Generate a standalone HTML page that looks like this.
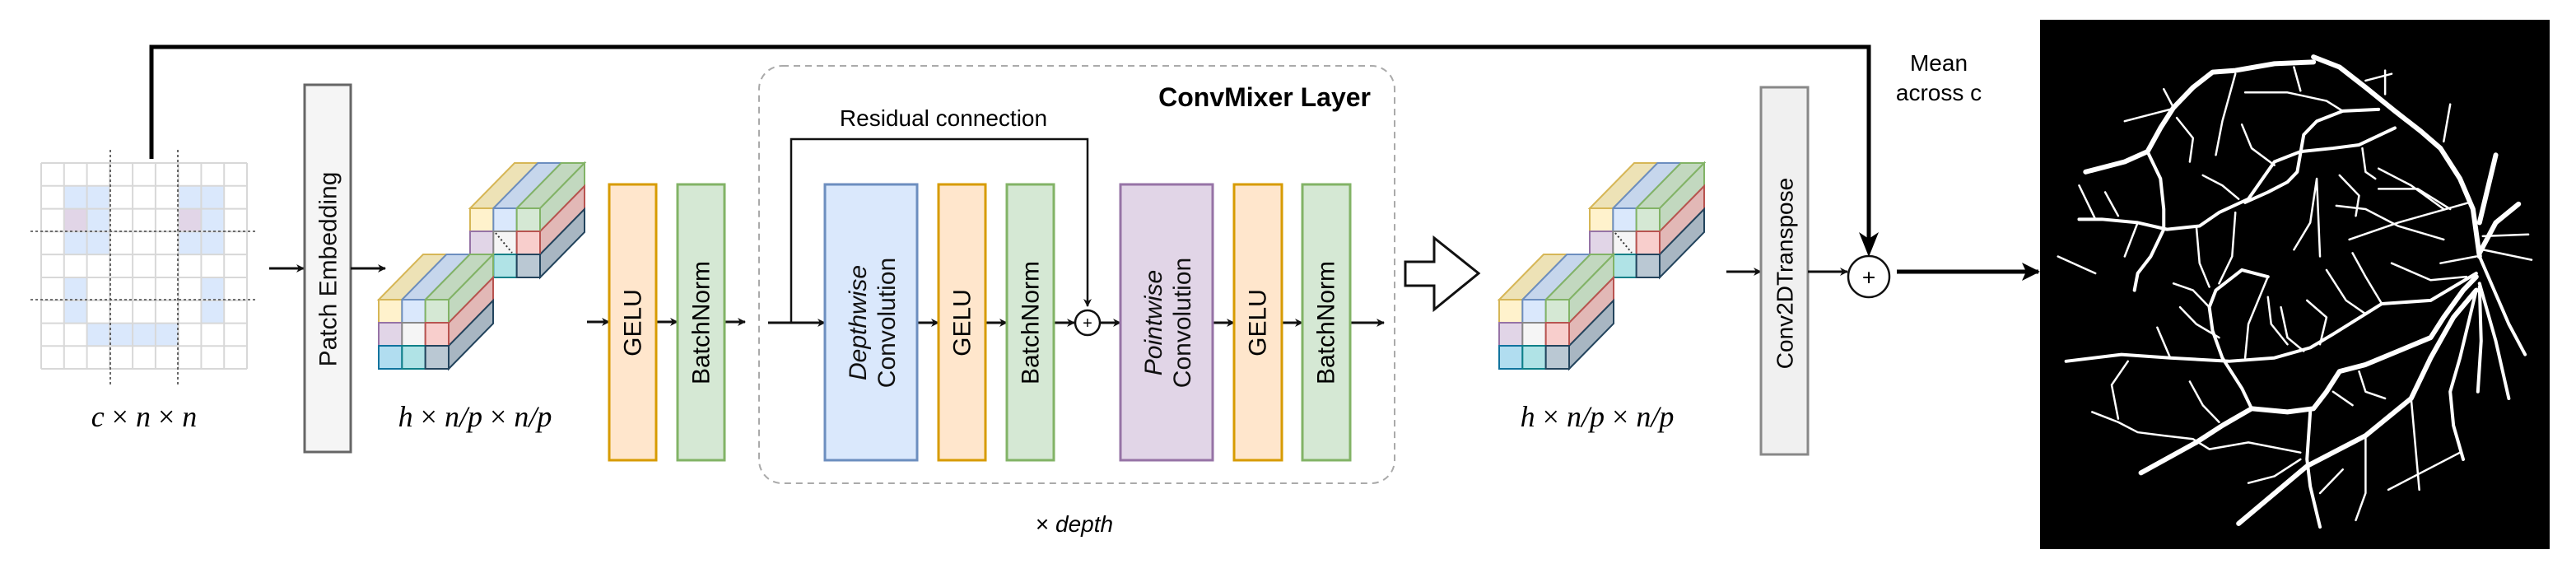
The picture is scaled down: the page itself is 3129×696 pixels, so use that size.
<!DOCTYPE html>
<html><head><meta charset="utf-8"><style>
html,body{margin:0;padding:0;background:#fff;}
svg{display:block;}
text{font-family:"Liberation Sans",sans-serif;}
</style></head><body>
<svg width="3129" height="696" viewBox="0 0 3129 696" xmlns="http://www.w3.org/2000/svg">
<defs>
<marker id="ah" markerWidth="10" markerHeight="10" refX="9" refY="5" orient="auto" markerUnits="userSpaceOnUse" viewBox="0 0 10 10">
<path d="M0,0 L10,5 L0,10 L3,5 z" fill="#111"/></marker>
<marker id="ah2" markerWidth="22" markerHeight="22" refX="20" refY="11" orient="auto" markerUnits="userSpaceOnUse" viewBox="0 0 22 22">
<path d="M0,0 L22,11 L0,22 L5,11 z" fill="#000"/></marker>
<g id="cube" stroke-width="2">
<polygon points="0,0 28.33,0 82.33,-55 54,-55" fill="#ede2b6" stroke="#d6b656"/>
<polygon points="28.33,0 56.67,0 110.67,-55 82.33,-55" fill="#c6d6ec" stroke="#6c8ebf"/>
<polygon points="56.67,0 85,0 139,-55 110.67,-55" fill="#c2d8bf" stroke="#82b366"/>
<polygon points="85,0 85,28 139,-27 139,-55" fill="#c2d8bf" stroke="#82b366"/>
<polygon points="85,28 85,56 139,1 139,-27" fill="#e2b8b6" stroke="#b85450"/>
<polygon points="85,56 85,84 139,29 139,1" fill="#a8b6c2" stroke="#23445d"/>
<rect x="0" y="0" width="28.33" height="28" fill="#fff2cc" stroke="#d6b656"/>
<rect x="28.33" y="0" width="28.33" height="28" fill="#dae8fc" stroke="#6c8ebf"/>
<rect x="56.67" y="0" width="28.33" height="28" fill="#d5e8d4" stroke="#82b366"/>
<rect x="0" y="28" width="28.33" height="28" fill="#e1d5e7" stroke="#9673a6"/>
<rect x="28.33" y="28" width="28.33" height="28" fill="#f5f5f5" stroke="#888"/>
<rect x="56.67" y="28" width="28.33" height="28" fill="#f8cecc" stroke="#b85450"/>
<rect x="0" y="56" width="28.33" height="28" fill="#b1ddf0" stroke="#10739e"/>
<rect x="28.33" y="56" width="28.33" height="28" fill="#b0e3e6" stroke="#0e8088"/>
<rect x="56.67" y="56" width="28.33" height="28" fill="#bac8d3" stroke="#23445d"/>
</g>
</defs>

<!-- top skip connection -->
<polyline points="184,193 184,57 2270,57 2270,306" fill="none" stroke="#000" stroke-width="5"/>
<path d="M2258,282 L2270,312 L2282,282 L2270,290 z" fill="#000"/>

<!-- input grid -->
<g>
<rect x="50" y="198" width="250" height="250" fill="#fff"/>
<g fill="#dae8fc">
<rect x="77.8" y="225.8" width="55.6" height="27.8"/><rect x="216.7" y="225.8" width="55.6" height="27.8"/>
<rect x="105.6" y="253.6" width="27.8" height="27.8"/><rect x="244.4" y="253.6" width="27.8" height="27.8"/>
<rect x="77.8" y="281.3" width="55.6" height="27.8"/><rect x="216.7" y="281.3" width="55.6" height="27.8"/>
<rect x="77.8" y="337" width="27.8" height="55.6"/><rect x="244.4" y="337" width="27.8" height="55.6"/>
<rect x="105.6" y="392.6" width="111.1" height="27.8"/>
</g>
<g fill="#e1d5e7"><rect x="77.8" y="253.6" width="27.8" height="27.8"/><rect x="216.7" y="253.6" width="27.8" height="27.8"/></g>
<g stroke="#d8d8d8" stroke-width="2" fill="none">
<path d="M50,198V448M77.8,198V448M105.6,198V448M133.3,198V448M161.1,198V448M188.9,198V448M216.7,198V448M244.4,198V448M272.2,198V448M300,198V448"/>
<path d="M50,198H300M50,225.8H300M50,253.6H300M50,281.3H300M50,309.1H300M50,337H300M50,364.7H300M50,392.6H300M50,420.3H300M50,448H300"/>
</g>
<g stroke="#444" stroke-width="1.6" stroke-dasharray="3,3" fill="none">
<path d="M134,182V469M216,182V469M37,281H312M37,364H312"/>
</g>
</g>
<text x="175" y="518" font-family="Liberation Serif" font-style="italic" font-size="36" text-anchor="middle" style="font-family:'Liberation Serif',serif">c <tspan font-style="normal">×</tspan> n <tspan font-style="normal">×</tspan> n</text>

<!-- patch embedding -->
<line x1="327" y1="326" x2="369" y2="326" stroke="#111" stroke-width="3" marker-end="url(#ah)"/>
<rect x="370" y="103" width="56" height="446" fill="#f5f5f5" stroke="#666" stroke-width="3"/>
<text transform="translate(399,327) rotate(-90)" font-size="30" text-anchor="middle" dominant-baseline="central" fill="#111">Patch Embedding</text>
<line x1="426" y1="326" x2="468" y2="326" stroke="#111" stroke-width="3" marker-end="url(#ah)"/>

<use href="#cube" x="571" y="253"/>
<use href="#cube" x="460" y="364"/>
<line x1="602" y1="283" x2="622" y2="307" stroke="#333" stroke-width="2" stroke-dasharray="2,3"/>
<text x="577" y="518" font-style="italic" font-size="36" text-anchor="middle" style="font-family:'Liberation Serif',serif">h <tspan font-style="normal">×</tspan> n/p <tspan font-style="normal">×</tspan> n/p</text>

<!-- GELU / BN -->
<g stroke="#111" stroke-width="3" marker-end="url(#ah)">
<line x1="713" y1="391" x2="740" y2="391"/>
<line x1="797" y1="391" x2="823" y2="391"/>
<line x1="880" y1="391" x2="905" y2="391"/>
</g>
<rect x="740" y="224" width="57" height="335" fill="#ffe6cc" stroke="#d79b00" stroke-width="3"/>
<rect x="823" y="224" width="57" height="335" fill="#d5e8d4" stroke="#82b366" stroke-width="3"/>
<text transform="translate(769,392) rotate(-90)" font-size="30" text-anchor="middle" dominant-baseline="central">GELU</text>
<text transform="translate(852,392) rotate(-90)" font-size="30" text-anchor="middle" dominant-baseline="central">BatchNorm</text>

<!-- ConvMixer layer -->
<rect x="922" y="80" width="772" height="507" rx="28" fill="none" stroke="#aaa" stroke-width="2" stroke-dasharray="8,6"/>
<text x="1665" y="129" font-size="32" font-weight="bold" text-anchor="end">ConvMixer Layer</text>
<text x="1146" y="153" font-size="28" text-anchor="middle">Residual connection</text>
<polyline points="961,392 961,169 1321,169 1321,372" fill="none" stroke="#111" stroke-width="2.5" marker-end="url(#ah)"/>
<g stroke="#111" stroke-width="3" marker-end="url(#ah)">
<line x1="933" y1="392" x2="1002" y2="392"/>
<line x1="1114" y1="392" x2="1140" y2="392"/>
<line x1="1197" y1="392" x2="1223" y2="392"/>
<line x1="1280" y1="392" x2="1305" y2="392"/>
<line x1="1337" y1="392" x2="1361" y2="392"/>
<line x1="1473" y1="392" x2="1499" y2="392"/>
<line x1="1557" y1="392" x2="1582" y2="392"/>
<line x1="1640" y1="392" x2="1681" y2="392"/>
</g>
<circle cx="1321" cy="392" r="15" fill="#fff" stroke="#111" stroke-width="2.5"/>
<text x="1321" y="393" font-size="20" text-anchor="middle" dominant-baseline="central">+</text>
<rect x="1002" y="224" width="112" height="335" fill="#dae8fc" stroke="#6c8ebf" stroke-width="3"/>
<text transform="translate(1058,392) rotate(-90)" font-size="30" text-anchor="middle" fill="#111"><tspan x="0" dy="-6" font-style="italic">Depthwise</tspan><tspan x="0" dy="35">Convolution</tspan></text>
<rect x="1140" y="224" width="57" height="335" fill="#ffe6cc" stroke="#d79b00" stroke-width="3"/>
<text transform="translate(1169,392) rotate(-90)" font-size="30" text-anchor="middle" dominant-baseline="central">GELU</text>
<rect x="1223" y="224" width="57" height="335" fill="#d5e8d4" stroke="#82b366" stroke-width="3"/>
<text transform="translate(1252,392) rotate(-90)" font-size="30" text-anchor="middle" dominant-baseline="central">BatchNorm</text>
<rect x="1361" y="224" width="112" height="335" fill="#e1d5e7" stroke="#9673a6" stroke-width="3"/>
<text transform="translate(1417,392) rotate(-90)" font-size="30" text-anchor="middle" fill="#111"><tspan x="0" dy="-6" font-style="italic">Pointwise</tspan><tspan x="0" dy="35">Convolution</tspan></text>
<rect x="1499" y="224" width="58" height="335" fill="#ffe6cc" stroke="#d79b00" stroke-width="3"/>
<text transform="translate(1528,392) rotate(-90)" font-size="30" text-anchor="middle" dominant-baseline="central">GELU</text>
<rect x="1582" y="224" width="58" height="335" fill="#d5e8d4" stroke="#82b366" stroke-width="3"/>
<text transform="translate(1611,392) rotate(-90)" font-size="30" text-anchor="middle" dominant-baseline="central">BatchNorm</text>
<text x="1305" y="646" font-size="28" text-anchor="middle">× <tspan font-style="italic">depth</tspan></text>

<!-- hollow arrow -->
<polygon points="1707,318 1742,318 1742,289 1796,332 1742,376 1742,347 1707,347" fill="#fff" stroke="#111" stroke-width="3"/>

<use href="#cube" x="1931" y="253"/>
<use href="#cube" x="1821" y="364"/>
<line x1="1962" y1="283" x2="1982" y2="307" stroke="#333" stroke-width="2" stroke-dasharray="2,3"/>
<text x="1940" y="518" font-style="italic" font-size="36" text-anchor="middle" style="font-family:'Liberation Serif',serif">h <tspan font-style="normal">×</tspan> n/p <tspan font-style="normal">×</tspan> n/p</text>

<line x1="2097" y1="330" x2="2139" y2="330" stroke="#111" stroke-width="3" marker-end="url(#ah)"/>
<rect x="2139" y="106" width="57" height="446" fill="#f0f0f0" stroke="#888" stroke-width="3"/>
<text transform="translate(2168,332) rotate(-90)" font-size="28" text-anchor="middle" dominant-baseline="central">Conv2DTranspose</text>
<line x1="2196" y1="330" x2="2244" y2="330" stroke="#111" stroke-width="3" marker-end="url(#ah)"/>
<circle cx="2270" cy="336" r="25" fill="#fff" stroke="#111" stroke-width="2.5"/>
<text x="2270" y="337" font-size="28" text-anchor="middle" dominant-baseline="central">+</text>
<line x1="2304" y1="330" x2="2476" y2="330" stroke="#000" stroke-width="5" marker-end="url(#ah2)"/>
<text x="2355" y="86" font-size="28" text-anchor="middle">Mean</text>
<text x="2355" y="122" font-size="28" text-anchor="middle">across c</text>

<!-- vessel image -->
<rect x="2478" y="24" width="619" height="643" fill="#000"/>
<g transform="translate(2478,24) scale(0.3954,0.4107)" fill="none" stroke="#fff" stroke-linecap="round" stroke-linejoin="round">
<g stroke-width="6" vector-effect="non-scaling-stroke">
<path vector-effect="non-scaling-stroke" d="M1350,700 L1330,560 1290,470 1230,380 1170,330 1090,270 1000,200 920,140 840,110"/>
<path vector-effect="non-scaling-stroke" d="M840,125 L720,130 600,150 530,155 470,200 410,260 370,320 330,390 260,420 140,450"/>
<path vector-effect="non-scaling-stroke" d="M1340,760 L1300,800 1240,880 1200,940 1100,980 1000,1020 920,1040 880,1100 840,1150 760,1160 650,1150 560,1200 480,1250 310,1340"/>
<path vector-effect="non-scaling-stroke" d="M1340,800 L1270,880 1200,1000 1140,1120 1000,1230 820,1320 610,1490"/>
<path vector-effect="non-scaling-stroke" d="M1350,690 L1400,600 1470,545"/>
<path vector-effect="non-scaling-stroke" d="M1350,600 L1400,400"/>
</g>
<g stroke-width="4">
<path vector-effect="non-scaling-stroke" d="M1090,320 L980,370 900,380 800,390 720,420 640,530 550,570 490,610 390,620 300,600 190,590 120,590"/>
<path vector-effect="non-scaling-stroke" d="M1040,265 L930,270 850,300 810,340 790,450 760,480 700,510 630,540"/>
<path vector-effect="non-scaling-stroke" d="M1340,750 L1200,830 1050,840 1000,870 900,930 830,970 720,1000 580,1010 400,1000 250,990 80,1010"/>
<path vector-effect="non-scaling-stroke" d="M830,1160 L820,1300 830,1380 860,1500"/>
<path vector-effect="non-scaling-stroke" d="M330,390 L370,470 380,560 380,620 340,700 300,750 290,800"/>
<path vector-effect="non-scaling-stroke" d="M520,850 L540,800 620,740 700,760 M520,850 L530,920 560,1000 620,1090 650,1150"/>
<path vector-effect="non-scaling-stroke" d="M1350,700 L1440,900 1490,990"/>
<path vector-effect="non-scaling-stroke" d="M1350,780 L1400,950 1440,1120"/>
<path vector-effect="non-scaling-stroke" d="M1340,800 L1290,1000 1260,1100 1270,1200 1300,1300"/>
<path vector-effect="non-scaling-stroke" d="M1350,790 L1355,950 1345,1100"/>
</g>
<g stroke-width="2.5">
<path vector-effect="non-scaling-stroke" d="M1320,540 L1100,600 950,650"/>
<path vector-effect="non-scaling-stroke" d="M1360,640 L1500,635 M1360,680 L1510,710 M1230,720 L1340,700"/>
<path vector-effect="non-scaling-stroke" d="M1310,760 L1200,770 1080,720"/>
<path vector-effect="non-scaling-stroke" d="M1040,440 L1140,490 1240,560 M1040,500 L1160,500 1260,560"/>
<path vector-effect="non-scaling-stroke" d="M600,160 L560,300 540,400 M630,215 L760,215 880,240 930,270"/>
<path vector-effect="non-scaling-stroke" d="M850,470 L830,600 780,680 M850,470 L860,700"/>
<path vector-effect="non-scaling-stroke" d="M920,460 L980,520 970,580 M990,380 L1000,450 1030,470"/>
<path vector-effect="non-scaling-stroke" d="M910,550 L1000,560 1100,610 1240,650"/>
<path vector-effect="non-scaling-stroke" d="M960,690 L1000,760 1050,840 M880,740 L940,830 1000,870"/>
<path vector-effect="non-scaling-stroke" d="M160,1160 L240,1190 300,1220 380,1230 470,1240 520,1270 640,1250 800,1280"/>
<path vector-effect="non-scaling-stroke" d="M270,1010 L220,1080 240,1180 M460,1070 L500,1140 550,1190"/>
<path vector-effect="non-scaling-stroke" d="M1140,1120 L1165,1390 M1070,1390 L1290,1280 M1000,1230 L1000,1400 970,1480"/>
<path vector-effect="non-scaling-stroke" d="M700,760 L640,900 630,1000 M120,490 L170,590 M200,510 L240,580"/>
<path vector-effect="non-scaling-stroke" d="M260,300 L400,265 M380,205 L410,260 M420,290 L470,350 460,420 M55,700 L170,750 M300,600 L260,700"/>
<path vector-effect="non-scaling-stroke" d="M700,820 L710,900 760,960 M740,850 L760,940 810,980 M820,830 L880,880 860,960"/>
<path vector-effect="non-scaling-stroke" d="M410,780 L470,800 520,850 M430,850 L480,900 550,940 M360,910 L400,1000"/>
<path vector-effect="non-scaling-stroke" d="M620,310 L650,380 720,430 M500,460 L560,490 610,530 M1260,250 L1240,360"/>
<path vector-effect="non-scaling-stroke" d="M1080,160 L1000,180 M1060,150 L1060,220 M780,140 L800,210"/>
<path vector-effect="non-scaling-stroke" d="M980,1040 L1000,1100 1060,1120 M900,1100 L960,1140 M640,1370 L720,1350 800,1300 M860,1400 L930,1330"/>
<path vector-effect="non-scaling-stroke" d="M600,570 L590,700 550,780 M480,610 L490,720 520,790"/>
</g>
</g>
</svg>
</body></html>
